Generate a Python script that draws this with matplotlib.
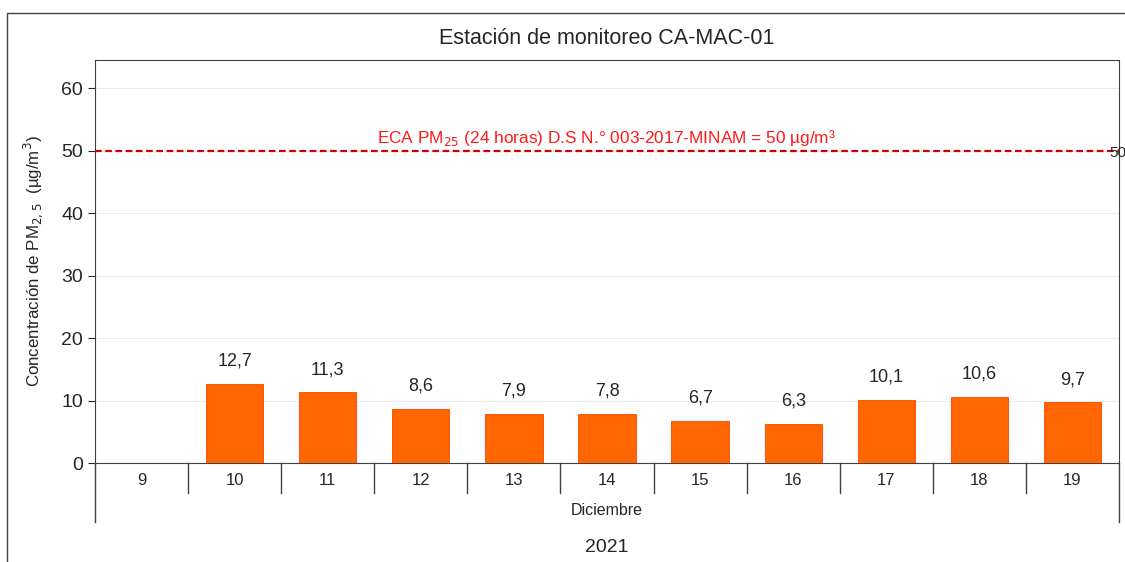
import numpy as np
import matplotlib
matplotlib.use("Agg")
import matplotlib.pyplot as plt
from matplotlib.patches import Rectangle

plt.rcParams["font.family"] = ["Liberation Sans", "DejaVu Sans"]

days = [str(d) for d in range(9, 20)]
pm25 = [np.nan, 12.7, 11.3, 8.6, 7.9, 7.8, 6.7, 6.3, 10.1, 10.6, 9.7]
eca_limit = 50
month = "Diciembre"
year = "2021"

fig = plt.figure(figsize=(11.25, 5.62), dpi=100)
W, H = 1125, 562
ax = fig.add_axes([95 / W, 1 - 463 / H, (1119 - 95) / W, (463 - 60) / H])

# outer chart border (right and bottom edges fall outside the image)
fig.patches.append(Rectangle((7 / W, -0.1), 1.2, 1 - 13 / H + 0.1, transform=fig.transFigure,
                             fill=False, edgecolor="#404040", linewidth=1.0))

x = np.arange(len(days))
vals = np.nan_to_num(np.array(pm25, dtype=float))
ax.bar(x, vals, width=0.615, color="#FF6600", edgecolor="#FF4500", linewidth=0.6, zorder=3)
for xi, v in zip(x, pm25):
    if not np.isnan(v):
        ax.text(xi, v + 2.3, f"{v:.1f}".replace(".", ","), ha="center", va="bottom",
                fontsize=13, color="#262626")

ax.axhline(eca_limit, color="#CC0000", linestyle=(0, (3, 1.6)), linewidth=1.6, zorder=4)
ax.text(4.99, eca_limit + 0.4, "ECA PM$_{25}$ (24 horas) D.S N.° 003-2017-MINAM = 50 µg/m³",
        ha="center", va="bottom", color="#FF1A1A", fontsize=12.4)
fig.text(1109 / W, 1 - 153 / H, "50", ha="left", va="center", fontsize=11, color="#262626")

ax.set_xlim(-0.5, len(days) - 0.5)
ax.set_ylim(0, 64.5)
ax.set_yticks(range(0, 61, 10))
ax.tick_params(axis="y", labelsize=14, colors="#262626", length=5, direction="out")
ax.grid(axis="y", color="#EBEBEB", linewidth=0.8, zorder=0)
ax.set_axisbelow(True)
for s in ax.spines.values():
    s.set_color("#404040")

ax.set_xticks([])
tr = ax.get_xaxis_transform()
for xi, d in zip(x, days):
    ax.text(xi, -0.044, d, transform=tr, ha="center", va="center", fontsize=12, color="#262626")
for b in np.arange(0.5, len(days) - 1, 1.0):
    ax.plot([b, b], [0, -0.074], transform=tr, color="#404040", linewidth=1.0, clip_on=False)
for b in [-0.5, len(days) - 0.5]:
    ax.plot([b, b], [0, -0.146], transform=tr, color="#404040", linewidth=1.0, clip_on=False)
ax.text((len(days) - 1) / 2, -0.117, month, transform=tr, ha="center", va="center",
        fontsize=11.5, color="#262626")
ax.text((len(days) - 1) / 2, -0.21, year, transform=tr, ha="center", va="center",
        fontsize=14, color="#262626")

ax.set_ylabel("Concentración de PM$_{2,5}$  (µg/m$^3$)", fontsize=12.2, color="#262626", labelpad=12)
fig.text(607 / W, 1 - 38 / H, "Estación de monitoreo CA-MAC-01", ha="center", va="center",
         fontsize=15.5, color="#262626")

fig.savefig("out.png", dpi=100)
